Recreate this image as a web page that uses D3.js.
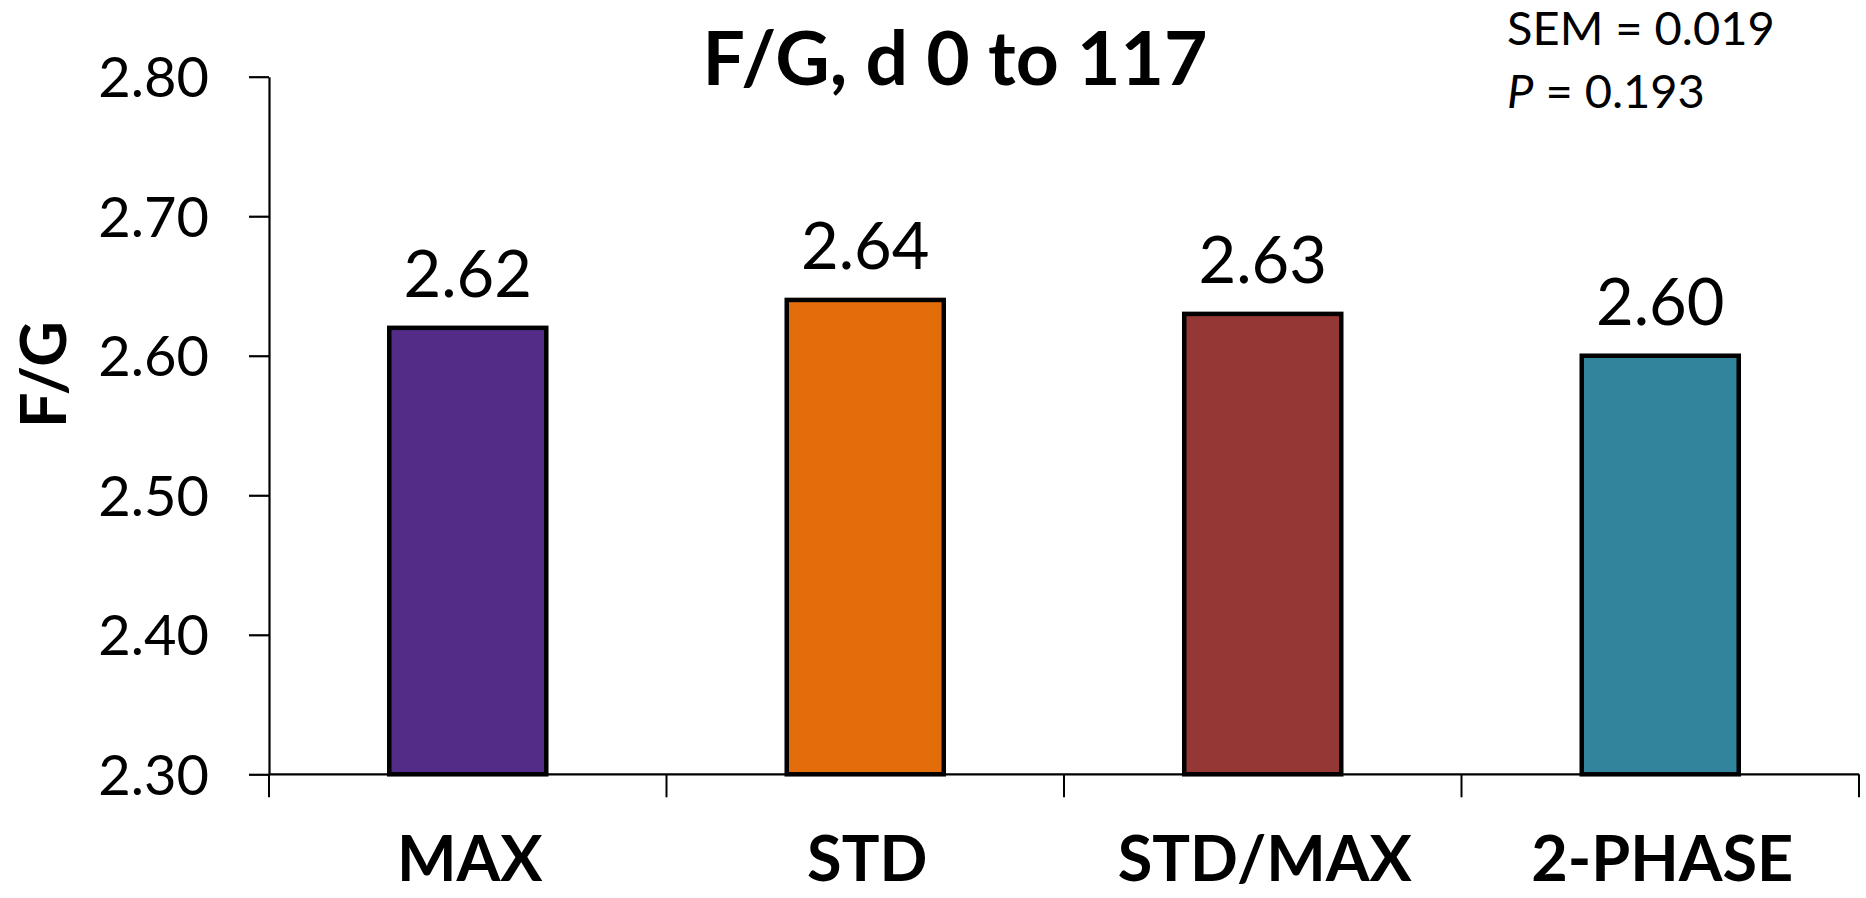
<!DOCTYPE html>
<html>
<head>
<meta charset="utf-8">
<script src="https://cdn.jsdelivr.net/npm/d3@7"></script>
<style>
  html, body { margin: 0; padding: 0; background: #ffffff; }
  svg { display: block; }
  text { font-family: Lato, "Open Sans", sans-serif; fill: #000; }
</style>
</head>
<body>
<svg id="chart" width="1866" height="898"></svg>
<script>
// ---- data ----
const categories = ["MAX", "STD", "STD/MAX", "2-PHASE"];
const values = [2.62, 2.64, 2.63, 2.60];
const valueLabels = ["2.62", "2.64", "2.63", "2.60"];
const colors = ["#522C87", "#E36C0B", "#953735", "#31849B"];
const yTicks = [2.30, 2.40, 2.50, 2.60, 2.70, 2.80];
const yDomain = [2.30, 2.80];
const titleText = "F/G, d 0 to 117";
const yAxisTitle = "F/G";
const semText = "SEM = 0.019";
const pText = " = 0.193";

// ---- layout ----
const svg = d3.select("#chart");
const plotLeft = 269, plotRight = 1859, plotTop = 76.7, plotBottom = 774.3;

const x = d3.scaleBand().domain(categories).range([plotLeft, plotRight]).padding(0);
const y = d3.scaleLinear().domain(yDomain).range([plotBottom, plotTop]);

// y axis
const yAxis = d3.axisLeft(y).tickValues(yTicks).tickFormat(d3.format(".2f"))
  .tickSize(20).tickSizeOuter(0).tickPadding(40);
const gy = svg.append("g").attr("transform", `translate(${plotLeft},0)`).call(yAxis);
gy.select(".domain").attr("stroke", "#000").attr("stroke-width", 2.2);
gy.selectAll(".tick line").attr("stroke", "#000").attr("stroke-width", 2.2);
gy.selectAll(".tick text").attr("font-size", 56).attr("dy", "0.36em")
  .style("font-family", "Lato, sans-serif").attr("fill", "#000");

// x axis line + ticks at band boundaries
const boundaries = categories.map(c => x(c)).concat([x.range()[1]]);
svg.append("line").attr("x1", plotLeft).attr("x2", plotRight).attr("y1", plotBottom).attr("y2", plotBottom)
  .attr("stroke", "#000").attr("stroke-width", 2.2);
svg.selectAll(".xtick").data(boundaries).enter().append("line")
  .attr("x1", d => d).attr("x2", d => d).attr("y1", plotBottom).attr("y2", plotBottom + 23)
  .attr("stroke", "#000").attr("stroke-width", 2);

// bars
const barFrac = 0.395;
const bw = x.bandwidth() * barFrac;
svg.selectAll(".bar").data(categories).enter().append("rect")
  .attr("x", (d) => x(d) + (x.bandwidth() - bw) / 2)
  .attr("y", (d, i) => y(values[i]))
  .attr("width", bw)
  .attr("height", (d, i) => y(yDomain[0]) - y(values[i]))
  .attr("fill", (d, i) => colors[i])
  .attr("stroke", "#000").attr("stroke-width", 4.5);

// value labels
svg.selectAll(".vlab").data(categories).enter().append("text")
  .attr("x", d => x(d) + x.bandwidth() / 2)
  .attr("y", (d, i) => y(values[i]) - 31)
  .attr("text-anchor", "middle").attr("font-size", 65)
  .text((d, i) => valueLabels[i]);

// category labels
svg.selectAll(".clab").data(categories).enter().append("text")
  .attr("x", d => x(d) + x.bandwidth() / 2 + 2)
  .attr("y", 881)
  .attr("text-anchor", "middle").attr("font-size", 63).attr("font-weight", "bold")
  .text(d => d);

// title
svg.append("text").attr("x", 955).attr("y", 85).attr("text-anchor", "middle")
  .attr("font-size", 75).attr("font-weight", "bold").text(titleText);

// y axis title
svg.append("text").attr("transform", "translate(66,374.5) rotate(-90)")
  .attr("text-anchor", "middle").attr("font-size", 63).attr("font-weight", "bold")
  .text(yAxisTitle);

// SEM / P annotation
svg.append("text").attr("x", 1507).attr("y", 45).attr("font-size", 47).text(semText);
const pt = svg.append("text").attr("x", 1507).attr("y", 108).attr("font-size", 47);
pt.append("tspan").attr("font-style", "italic").text("P");
pt.append("tspan").text(pText);
</script>
</body>
</html>
